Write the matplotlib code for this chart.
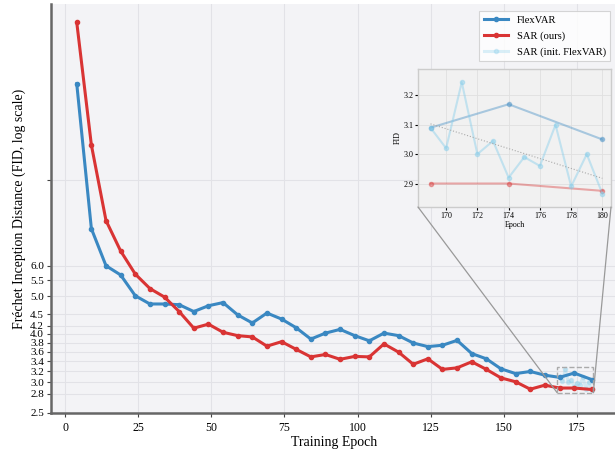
import matplotlib
matplotlib.use("Agg")
import matplotlib.pyplot as plt
from matplotlib.patches import Rectangle, ConnectionPatch
import numpy as np

plt.rcParams['font.family'] = ['Liberation Serif', 'DejaVu Serif']

# Training epochs (checkpoints every 5 epochs, plus the final one)
epochs = list(range(4, 175, 5)) + [180]

flexvar_fid = [17.7, 7.48, 6.0, 5.68, 5.02, 4.78, 4.78, 4.76, 4.57, 4.73,
               4.82, 4.48, 4.27, 4.53, 4.37, 4.15, 3.88, 4.02, 4.11, 3.96,
               3.84, 4.02, 3.96, 3.79, 3.71, 3.74, 3.85, 3.56, 3.45, 3.25,
               3.16, 3.20, 3.13, 3.09, 3.17, 3.05]

sar_fid = [25.5, 12.3, 7.85, 6.55, 5.71, 5.24, 4.98, 4.57, 4.14, 4.24,
           4.04, 3.96, 3.93, 3.72, 3.82, 3.65, 3.49, 3.54, 3.44, 3.50,
           3.49, 3.77, 3.59, 3.34, 3.45, 3.24, 3.27, 3.39, 3.24, 3.08,
           3.01, 2.88, 2.95, 2.90, 2.90, 2.875]

# SAR initialised from FlexVAR, evaluated every epoch near the end
init_epochs = list(range(169, 181))
init_fid = [3.09, 3.02, 3.245, 3.00, 3.045, 2.92, 2.99, 2.96, 3.10, 2.89, 3.00, 2.865]

ytick_vals = [2.5, 2.8, 3.0, 3.2, 3.4, 3.6, 3.8, 4.0, 4.2, 4.5, 5.0, 5.5, 6.0, 10]
ytick_labels = ['2.5', '2.8', '3.0', '3.2', '3.4', '3.6', '3.8', '4.0', '4.2', '4.5', '5.0', '5.5', '6.0', '']

blue = '#3a88c2'
red = '#d93434'
light = 'skyblue'

fig = plt.figure(figsize=(6.15, 4.5), dpi=100)
ax = fig.add_axes([51 / 615, 1 - 413 / 450, 1 - 51 / 615 + 0.004, (413 - 4) / 450])
ax.set_facecolor('#f3f3f6')

ax.plot(epochs, flexvar_fid, '-o', color=blue, lw=2.2, ms=3, label='FlexVAR', zorder=3)
ax.plot(epochs, sar_fid, '-o', color=red, lw=2.2, ms=3, label='SAR (ours)', zorder=3)
ax.plot(init_epochs, init_fid, '-o', color=light, lw=2.2, ms=3, alpha=0.3,
        label='SAR (init. FlexVAR)', zorder=2)

ax.set_yscale('log')
ax.set_ylim(2.5, None)
ax.set_yticks(ytick_vals)
ax.set_yticklabels(ytick_labels)
ax.yaxis.set_minor_locator(matplotlib.ticker.NullLocator())
ax.set_xticks([0, 25, 50, 75, 100, 125, 150, 175])
ax.tick_params(labelsize=8, length=3, pad=2, color='#444444')
ax.tick_params(axis='x', labelsize=8.5, pad=3.5)

ax.grid(True, color='#e2e2e7', lw=0.8)
ax.set_axisbelow(True)
for s in ['top', 'right']:
    ax.spines[s].set_visible(False)
for s in ['left', 'bottom']:
    ax.spines[s].set_color('#666666')
    ax.spines[s].set_linewidth(1.8)

ax.set_xlabel('Training Epoch', fontsize=10, labelpad=1.5)
ax.set_ylabel('Fréchet Inception Distance (FID, log scale)', fontsize=10, labelpad=3)

leg = ax.legend(loc='upper right', fontsize=7.6, frameon=True, fancybox=False,
                borderpad=0.45, handlelength=2.3, labelspacing=0.6,
                bbox_to_anchor=(0.997, 0.997))
leg.get_frame().set_edgecolor('#cccccc')
leg.get_frame().set_linewidth(0.8)

# zoomed inset
x1, x2, y1, y2 = 168.2, 180.55, 2.82, 3.29
axins = fig.add_axes([418 / 615, 1 - 207 / 450, 193 / 615, 138 / 450])
axins.set_facecolor('#f1f1f1')
sel = [i for i, e in enumerate(epochs) if e >= 169]
axins.plot([epochs[i] for i in sel], [flexvar_fid[i] for i in sel], '-o',
           color=blue, alpha=0.4, lw=1.5, ms=3)
axins.plot([epochs[i] for i in sel], [sar_fid[i] for i in sel], '-o',
           color=red, alpha=0.4, lw=1.5, ms=3)
axins.plot(init_epochs, init_fid, '-o', color=light, alpha=0.45, lw=1.5, ms=3)
coef = np.polyfit(init_epochs, init_fid, 1)
axins.plot(init_epochs, np.polyval(coef, init_epochs), ':', color='#aaaaaa', lw=0.8)
axins.set_xlim(x1, x2)
axins.set_ylim(y1, y2)
axins.set_xticks([170, 172, 174, 176, 178, 180])
axins.set_yticks([2.9, 3.0, 3.1, 3.2])
axins.tick_params(labelsize=5.8, length=2, pad=1.5)
axins.grid(True, color='#e0e0e0', lw=0.6)
axins.set_xlabel('Epoch', fontsize=5.8, labelpad=0.5)
axins.set_ylabel('FID', fontsize=5.8, labelpad=1)
for s in axins.spines.values():
    s.set_color('#cccccc')
    s.set_linewidth(1)

rect = Rectangle((x1, y1), x2 - x1, y2 - y1, fill=False, ec='#aaaaaa', ls='--', lw=1, zorder=4)
ax.add_patch(rect)
for cx, bx in [(0, x1), (1, x2)]:
    con = ConnectionPatch(xyA=(cx, 0), coordsA=axins.transAxes, xyB=(bx, y1),
                          coordsB=ax.transData, color='#999999', lw=0.9)
    fig.add_artist(con)

fig.savefig('out.png', dpi=100)
